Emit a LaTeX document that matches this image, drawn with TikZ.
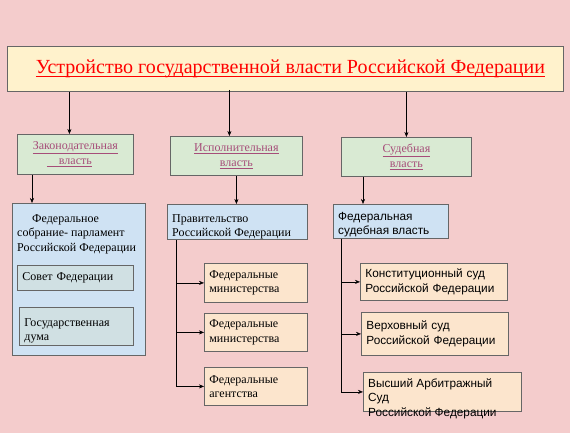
\documentclass[tikz,border=0pt]{standalone}
\usepackage{fontspec}
\setmainfont{Liberation Serif}
\setsansfont{Liberation Sans}
\usetikzlibrary{arrows.meta}

\definecolor{bgpink}{HTML}{F4CCCC}
\definecolor{boxgray}{HTML}{666666}
\definecolor{titlefill}{HTML}{FFF2CC}
\definecolor{greenfill}{HTML}{D9EAD3}
\definecolor{bluefill}{HTML}{CFE2F3}
\definecolor{innerfill}{HTML}{D0E0E3}
\definecolor{orangefill}{HTML}{FCE5CD}
\definecolor{linkmauve}{HTML}{A64D79}

\newcommand{\titleuline}[1]{\setbox0\hbox{#1}\rlap{\rule[-3.5pt]{\wd0}{1.4pt}}\box0}

\begin{document}
\begin{tikzpicture}[
	x = 1pt, y = -1pt,
	>={Stealth[length=5pt, width=4pt]},
	box/.style={rectangle, draw=boxgray, line width=0.8pt, anchor=north west, inner xsep=5pt, inner ysep=2pt},
	titlenode/.style={box, fill=titlefill, text=red, font=\fontsize{20}{24}\selectfont},
	branchnode/.style={box, fill=greenfill, text=linkmauve, align=center, font=\fontsize{12}{15}\selectfont},
	organnode/.style={box, fill=bluefill},
	chambernode/.style={box, fill=innerfill, align=left, font=\fontsize{12}{14.5}\selectfont},
	bodynode/.style={box, fill=orangefill, align=left, font=\fontsize{12}{14.5}\selectfont},
	sansnode/.style={font=\sffamily\fontsize{11.8}{14.5}\selectfont},
	toptext/.style={anchor=north west, inner xsep=5pt, align=left, font=\fontsize{12}{14.5}\selectfont},
	]
	\fill[bgpink] (0,0) rectangle (570,433);
	\useasboundingbox (0,0) rectangle (570,433);

	%Title
	\node[titlenode, minimum width=556, minimum height=45] (title) at (7,46)
		{\hspace*{10pt}\titleuline{Устройство государственной власти Российской Федерации}};

	%Branches
	\node[branchnode, minimum width=116, minimum height=40] (zak) at (17,134)
		{\underline{Законодательная}\\\llap{\underline{\hspace{12pt}}}\underline{власть}};
	\node[branchnode, minimum width=132, minimum height=39] (isp) at (170,136)
		{\underline{Исполнительная}\\\underline{власть}};
	\node[branchnode, minimum width=130, minimum height=39] (sud) at (341,137)
		{\underline{Судебная}\\\underline{власть}};

	%Organs
	\node[organnode, minimum width=133, minimum height=152] (fedsob) at (12,203) {};
	\node[toptext, inner ysep=11pt] (fedsobtext) at (fedsob.north west)
		{\hspace*{15pt}Федеральное\\собрание- парламент\\Российской Федерации};
	\node[chambernode, text width=106, minimum height=25] (sovet) at (17,265) {Совет Федерации};
	\node[chambernode, text width=104, minimum height=35] (duma) at (19,307) {\rule{0pt}{17pt}Государственная\\дума};
	\node[organnode, minimum width=140, minimum height=35] (prav) at (167,204) {};
	\node[toptext, inner ysep=10pt] (pravtext) at (prav.north west) {Правительство\\Российской Федерации};
	\node[organnode, minimum width=115, minimum height=34] (fsv) at (333,204) {};
	\node[toptext, sansnode, inner ysep=8pt] (fsvtext) at (fsv.north west) {Федеральная\\судебная власть};

	%Executive bodies
	\node[bodynode, text width=93, minimum height=39] (min1) at (204,263) {Федеральные\\министерства};
	\node[bodynode, text width=93, minimum height=38] (min2) at (204,313) {Федеральные\\министерства};
	\node[bodynode, text width=93, minimum height=38] (agen) at (204,367) {Федеральные\\агентства};

	%Courts
	\node[bodynode, sansnode, text width=137, minimum height=37] (ks) at (360,263) {Конституционный суд\\Российской Федерации};
	\node[bodynode, sansnode, text width=137, minimum height=43] (vs) at (361,312) {Верховный суд\\Российской Федерации};
	\node[bodynode, minimum width=158, minimum height=39] (vas) at (363,372) {};
	\node[toptext, sansnode, inner ysep=6.5pt] (vastext) at (vas.north west)
		{Высший Арбитражный\\Суд\\Российской Федерации};

	%Lines
	\draw[->] ([xshift=-6pt]zak.north |- title.south) -- ([xshift=-6pt]zak.north);
	\draw[->] ([xshift=-7pt, yshift=2pt]isp.north |- title.south) -- ([xshift=-7pt]isp.north);
	\draw[->] (sud.north |- title.south) -- (sud.north);

	\draw[->] ([xshift=15pt]zak.south west) -- ([xshift=15pt]zak.south west |- fedsob.north);
	\draw[->] (isp.south) -- (isp.south |- prav.north);
	\draw[->] ([xshift=22pt]sud.south west) -- ([xshift=22pt]sud.south west |- fsv.north);

	\coordinate (pravtrunk) at ([xshift=9pt]prav.south west);
	\draw (pravtrunk) -- (pravtrunk |- agen.west);
	\draw[->] (pravtrunk |- min1.west) -- (min1.west);
	\draw[->] (pravtrunk |- min2.west) -- (min2.west);
	\draw[->] (pravtrunk |- agen.west) -- (agen.west);

	\coordinate (fsvtrunk) at ([xshift=8pt]fsv.south west);
	\draw (fsvtrunk) -- (fsvtrunk |- vas.west);
	\draw[->] (fsvtrunk |- ks.west) -- (ks.west);
	\draw[->] (fsvtrunk |- vs.west) -- (vs.west);
	\draw[->] (fsvtrunk |- vas.west) -- (vas.west);
\end{tikzpicture}
\end{document}
